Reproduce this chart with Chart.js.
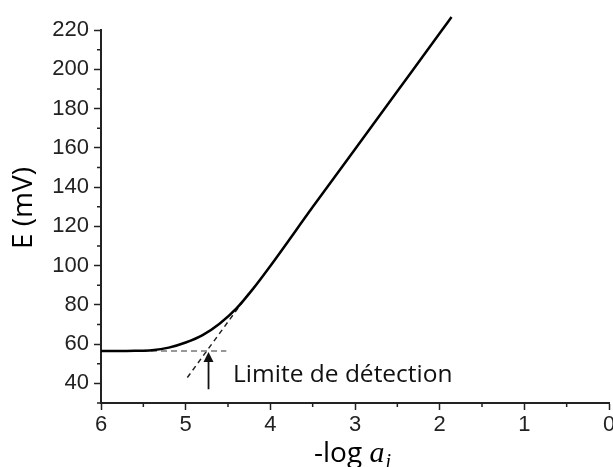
<!DOCTYPE html>
<html>
<head>
<meta charset="utf-8">
<script src="https://cdn.jsdelivr.net/npm/chart.js@4"></script>
<style>
  html, body { margin: 0; padding: 0; background: #fff; }
  canvas { display: block; }
</style>
</head>
<body>
<canvas id="myChart" width="613" height="467"></canvas>
<script>
// response curve
const logA = [6.0, 5.8, 5.6, 5.4, 5.2, 5.0, 4.8, 4.6, 4.4, 4.2, 4.0, 3.5, 3.0, 2.5, 2.0, 1.86];
const potential = [56.5, 56.5, 56.6, 56.9, 58.2, 60.8, 64.6, 70.4, 78.2, 88.4, 99.8, 129.8, 159.3, 188.8, 218.3, 226.6];

// dashed construction lines
const plateauX = [6.0, 4.52];
const plateauE = [56.5, 56.5];
const slopeX = [4.98, 4.24];
const slopeE = [43.0, 86.7];

// arrow at the detection limit
const detectionLimit = 4.73;
const arrowE = [37, 56];
const annotation = 'Limite de détection';
const annotationAt = [4.44, 44.5];

const xTicks = [0, 1, 2, 3, 4, 5, 6];
const xMinor = [0.5, 1.5, 2.5, 3.5, 4.5, 5.5];
const yTicks = [40, 60, 80, 100, 120, 140, 160, 180, 200, 220];
const yMinor = [30, 50, 70, 90, 110, 130, 150, 170, 190, 210];

const axisColor = '#222';
const tickFont = { family: 'Liberation Sans', size: 22 };

const toPoints = (xs, ys) => xs.map((x, i) => ({ x: x, y: ys[i] }));

const extras = {
  id: 'extras',
  afterDraw(chart) {
    const ctx = chart.ctx;
    const x = chart.scales.x;
    const y = chart.scales.y;
    const area = chart.chartArea;
    ctx.save();

    // minor ticks
    ctx.strokeStyle = axisColor;
    ctx.lineWidth = 1.5;
    ctx.beginPath();
    xMinor.forEach(v => {
      const px = x.getPixelForValue(v);
      ctx.moveTo(px, area.bottom);
      ctx.lineTo(px, area.bottom + 4);
    });
    yMinor.forEach(v => {
      const py = y.getPixelForValue(v);
      ctx.moveTo(area.left - 4, py);
      ctx.lineTo(area.left, py);
    });
    ctx.stroke();

    // arrow
    const ax = x.getPixelForValue(detectionLimit);
    const ay0 = y.getPixelForValue(arrowE[0]);
    const ay1 = y.getPixelForValue(arrowE[1]);
    ctx.strokeStyle = '#111';
    ctx.fillStyle = '#111';
    ctx.lineWidth = 1.8;
    ctx.beginPath();
    ctx.moveTo(ax, ay0);
    ctx.lineTo(ax, ay1 + 8);
    ctx.stroke();
    ctx.beginPath();
    ctx.moveTo(ax, ay1);
    ctx.lineTo(ax - 5, ay1 + 10);
    ctx.lineTo(ax + 5, ay1 + 10);
    ctx.closePath();
    ctx.fill();

    // annotation text
    ctx.fillStyle = '#111';
    ctx.font = '24.5px "Open Sans"';
    ctx.textAlign = 'left';
    ctx.textBaseline = 'middle';
    ctx.fillText(annotation, x.getPixelForValue(annotationAt[0]), y.getPixelForValue(annotationAt[1]));

    // y title
    ctx.save();
    ctx.translate(24, 208);
    ctx.rotate(-Math.PI / 2);
    ctx.textAlign = 'center';
    ctx.textBaseline = 'middle';
    ctx.font = '28px "Open Sans"';
    ctx.fillStyle = '#000';
    ctx.fillText('E (mV)', 0, 0);
    ctx.restore();

    // x title: -log a_i
    const cx = (area.left + area.right) / 2;
    const base = 462;
    ctx.fillStyle = '#000';
    ctx.textBaseline = 'alphabetic';
    ctx.textAlign = 'left';
    ctx.font = '28px "Open Sans"';
    const t1 = '-log ';
    const w1 = ctx.measureText(t1).width;
    ctx.font = 'italic 30px "Liberation Serif"';
    const w2 = ctx.measureText('a').width;
    ctx.font = 'italic 20px "Liberation Serif"';
    const w3 = ctx.measureText('i').width;
    let sx = cx - (w1 + w2 + w3) / 2 - 3;
    ctx.font = '28px "Open Sans"';
    ctx.fillText(t1, sx, base);
    sx += w1;
    ctx.font = 'italic 30px "Liberation Serif"';
    ctx.fillText('a', sx, base);
    sx += w2 + 1;
    ctx.font = 'italic 20px "Liberation Serif"';
    ctx.fillText('i', sx, base + 6);

    ctx.restore();
  }
};

const ctx = document.getElementById('myChart');

new Chart(ctx, {
  type: 'scatter',
  data: {
    datasets: [
      {
        label: 'E',
        data: toPoints(logA, potential),
        showLine: true,
        borderColor: '#000',
        borderWidth: 2.5,
        pointRadius: 0,
        cubicInterpolationMode: 'monotone',
        clip: false
      },
      {
        label: 'plateau',
        data: toPoints(plateauX, plateauE),
        showLine: true,
        borderColor: '#777',
        borderWidth: 1.5,
        borderDash: [6, 4],
        pointRadius: 0
      },
      {
        label: 'pente',
        data: toPoints(slopeX, slopeE),
        showLine: true,
        borderColor: '#222',
        borderWidth: 1.5,
        borderDash: [5, 4],
        pointRadius: 0
      }
    ]
  },
  options: {
    responsive: false,
    animation: false,
    maintainAspectRatio: false,
    layout: { padding: { top: 30, right: 4, left: 0, bottom: 0 } },
    plugins: {
      legend: { display: false },
      tooltip: { enabled: false }
    },
    scales: {
      x: {
        type: 'linear',
        reverse: true,
        min: 0,
        max: 6,
        afterBuildTicks: s => { s.ticks = xTicks.map(v => ({ value: v })); },
        afterFit: s => { s.height = 64; s.paddingLeft = 0; s.paddingRight = 0; },
        ticks: { font: tickFont, color: axisColor, padding: 2, maxRotation: 0, autoSkip: false },
        grid: { drawOnChartArea: false, tickLength: 7, tickColor: axisColor, tickWidth: 1.5 },
        border: { color: axisColor, width: 2 }
      },
      y: {
        type: 'linear',
        min: 30,
        max: 220,
        afterBuildTicks: s => { s.ticks = yTicks.map(v => ({ value: v })); },
        afterFit: s => { s.width = 101; s.paddingTop = 0; s.paddingBottom = 0; },
        ticks: { font: tickFont, color: axisColor, padding: 5, autoSkip: false },
        grid: { drawOnChartArea: false, tickLength: 7, tickColor: axisColor, tickWidth: 1.5 },
        border: { color: axisColor, width: 2 }
      }
    }
  },
  plugins: [extras]
});
</script>
</body>
</html>
